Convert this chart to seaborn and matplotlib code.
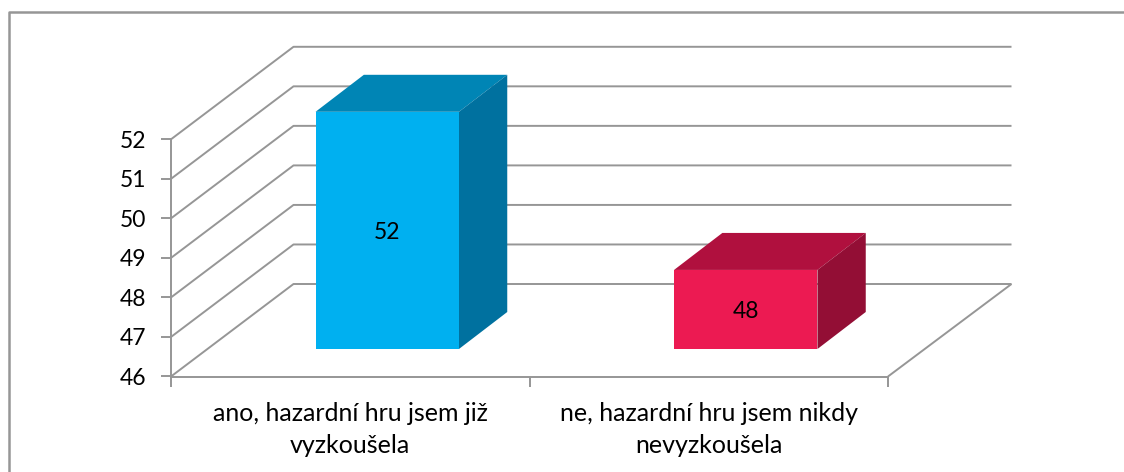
import seaborn as sns
from matplotlib import pyplot as plt
from matplotlib.lines import Line2D
from matplotlib.patches import Polygon
from matplotlib.transforms import Affine2D, IdentityTransform

categories = ['ano, hazardní hru jsem již\nvyzkoušela', 'ne, hazardní hru jsem nikdy\nnevyzkoušela']
values = [52, 48]
y_ticks = [46, 47, 48, 49, 50, 51, 52]
front_colors = ['#00B0F0', '#EC1A52']
top_colors = ['#0085B5', '#B0103E']
side_colors = ['#00719F', '#930E35']
grid_color = '#969696'

W, H = 1124, 472
WALL_DX, WALL_DY = 122.5, 92.5    # depth of the fake 3d box, px
BAR_DX, BAR_DY = 48.3, 37.0       # depth of one bar, px
SHIFT_DX, SHIFT_DY = 37.0, 27.5   # bars stand in the middle of the floor

sns.set_theme(style='white')
plt.rcParams['font.family'] = ['Lato', 'DejaVu Sans']

fig = plt.figure(figsize=(W / 100, H / 100), dpi=100, facecolor='white')
ax = fig.add_axes([171 / W, 1 - 376.5 / H, 717 / W, 237.2 / H])
ident = IdentityTransform()


def add_line(xs, ys, lw=1.4, z=1):
	fig.add_artist(Line2D(xs, ys, color=grid_color, lw=lw, transform=ident, zorder=z, solid_capstyle='butt'))


# Frame, only top and left are inside the picture
add_line([8.5, 8.5, W], [0, H - 11.5, H - 11.5], lw=1.8)

# Front faces come from seaborn
sns.barplot(x=[0, 1], y=values, hue=[0, 1], palette=front_colors, legend=False, width=0.4, saturation=1, ax=ax, zorder=5)
ax.set_xlim(-0.5, 1.5)
ax.set_ylim(y_ticks[0], y_ticks[-1])
ax.patch.set_alpha(0)
sns.despine(ax=ax, top=True, right=True)
for side in ['left', 'bottom']:
	ax.spines[side].set_color(grid_color)
	ax.spines[side].set_linewidth(1.4)

# Ticks and labels
ax.set_yticks(y_ticks)
ax.set_yticklabels([str(v) for v in y_ticks])
ax.set_xticks([0, 1])
ax.set_xticklabels(categories, linespacing=1.45)
ax.set_xticks([-0.5, 0.5, 1.5], minor=True)
ax.tick_params(axis='x', which='major', bottom=False, length=0, labelsize=18, labelcolor='black', pad=18.5)
ax.tick_params(axis='x', which='minor', bottom=True, length=7, width=1.4, color=grid_color)
ax.tick_params(axis='y', left=True, length=7, width=1.4, color=grid_color, labelsize=16.5, labelcolor='black', pad=11)

# Walls and floor, offset from the axis positions
x0, x1 = ax.transData.transform([(-0.5, 46), (1.5, 46)])[:, 0]
for tick in y_ticks:
	_, y = ax.transData.transform((-0.5, tick))
	add_line([x0, x0 + WALL_DX, x1 + WALL_DX + 1], [y, y + WALL_DY, y + WALL_DY])
_, y_floor = ax.transData.transform((-0.5, y_ticks[0]))
add_line([x1, x1 + WALL_DX + 1], [y_floor, y_floor + WALL_DY])

# Move the bars back onto the floor and give them a top and a side
shift = Affine2D().translate(SHIFT_DX, SHIFT_DY)
label_shift = Affine2D().translate(SHIFT_DX, SHIFT_DY - 2)
for bar, value, top_c, side_c in zip(ax.patches, values, top_colors, side_colors):
	bar.set_y(y_ticks[0])
	bar.set_height(value - y_ticks[0])
	xc = bar.get_x() + bar.get_width() / 2
	(xa, ya), (xb, yb) = ax.transData.transform([(bar.get_x(), y_ticks[0]), (bar.get_x() + bar.get_width(), value)])
	xa, xb = xa + SHIFT_DX, xb + SHIFT_DX
	ya, yb = ya + SHIFT_DY, yb + SHIFT_DY
	bar.set_transform(ax.transData + shift)
	bar.set_clip_on(False)
	bar.set_edgecolor('none')
	fig.add_artist(Polygon([(xa, yb), (xb, yb), (xb + BAR_DX, yb + BAR_DY), (xa + BAR_DX, yb + BAR_DY)],
		closed=True, fc=top_c, ec='none', transform=ident, zorder=2))
	fig.add_artist(Polygon([(xb, ya), (xb + BAR_DX, ya + BAR_DY), (xb + BAR_DX, yb + BAR_DY), (xb, yb)],
		closed=True, fc=side_c, ec='none', transform=ident, zorder=2))
	ax.text(xc, (y_ticks[0] + value) / 2, str(value), transform=ax.transData + label_shift, ha='center', va='center',
		fontsize=16.5, color='black', zorder=6)

ax.set_zorder(3)
plt.savefig('out.png', dpi=100)
plt.close()
